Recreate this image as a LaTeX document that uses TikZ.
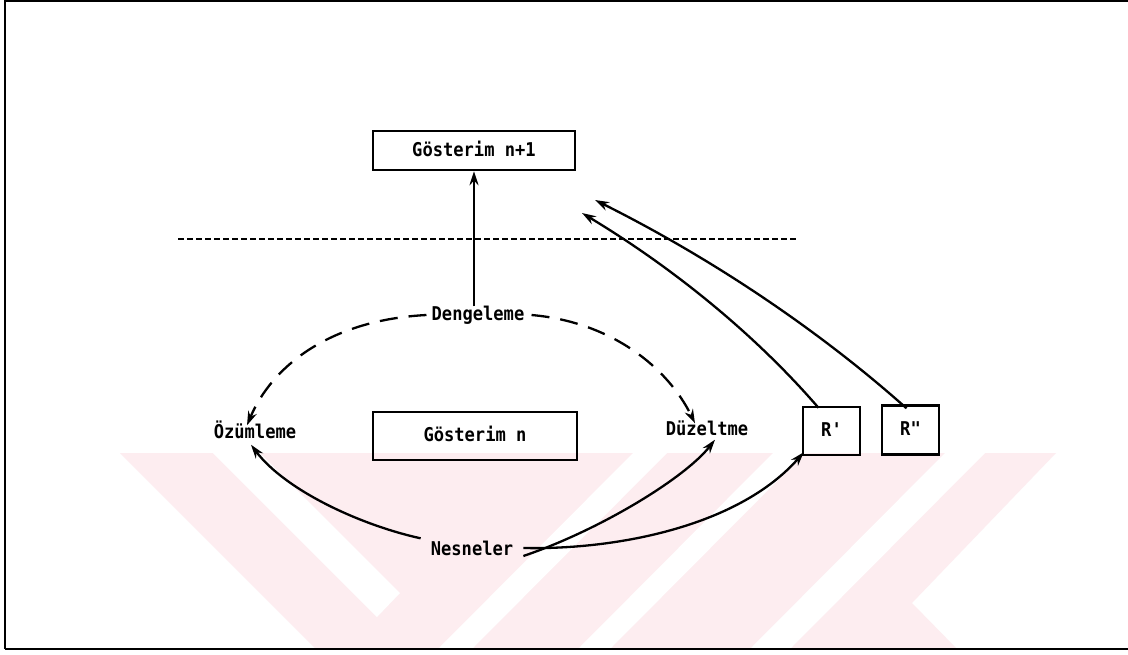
\documentclass[tikz,border=0pt]{standalone}
\usepackage{fontspec}
\newfontfamily\dotfont[FakeStretch=0.9]{DejaVu Sans Mono Bold}
\usetikzlibrary{arrows.meta}
\definecolor{wm}{RGB}{253,237,240}
\begin{document}
\begin{tikzpicture}[x=1pt,y=-1pt,
  lbl/.style={font=\dotfont\fontsize{19pt}{22pt}\selectfont, text height=14pt, text depth=3pt, inner sep=3pt},
  boxn/.style={lbl, draw, line width=2.4pt, minimum width=#1},
  arr/.style={line width=2.3pt, -{Stealth[length=14pt,width=9pt]}},
  darr/.style={arr, dash pattern=on 18pt off 11pt},
  hdash/.style={line width=2pt, dash pattern=on 6pt off 3pt},
  frame/.style={line width=2pt}
]
\useasboundingbox (0,0) rectangle (1128,654);
\fill[white] (0,0) rectangle (1128,654);
% watermark
\fill[wm] (120,453) -- (1056,453) -- (912,603) -- (957,649) -- (316,649) -- cycle;
\fill[white] (213,453) -- (260,453) -- (400,593) -- (377,617) -- cycle;
\fill[white] (633,453) -- (667,453) -- (472,649) -- (438,649) -- cycle;
\fill[white] (773,453) -- (805,453) -- (610,649) -- (578,649) -- cycle;
\fill[white] (945,453) -- (985,453) -- (790,649) -- (750,649) -- cycle;
% frame
\draw[frame] (5,1) -- (1128,1);
\draw[frame] (5,0) -- (5,649);
\draw[frame] (5,649) -- (1128,649);
% horizontal dashed separator
\draw[hdash] (178,239) -- (797,239);
% nodes
\node[boxn=202pt, minimum height=39pt] (n1) at (474,150.5) {Gösterim n+1};
\node[boxn=204pt, minimum height=48pt] (n0) at (475,436) {Gösterim n};
\node[boxn=57pt, minimum height=48pt] (r1) at (831.5,431) {R\char"27};
\node[boxn=57pt, minimum height=49pt] (r2) at (910.5,430) {R\char"22};
\node[lbl] (deng) at (478,315) {Dengeleme};
\node[lbl] (ozum) at (255,433) {Özümleme};
\node[lbl] (duz) at (707,430) {Düzeltme};
\node[lbl, inner xsep=10pt] (nes) at (472,550) {Nesneler};
% connectors
\draw[arr] ([xshift=-4pt,yshift=-3pt]deng.north) -- ([xshift=-4pt]deng.north |- n1.south);
\draw[darr] ([xshift=-2pt]deng.west) .. controls (330,320) and (272,366) .. ([xshift=-8pt,yshift=-4pt]ozum.north);
\draw[darr] ([xshift=4pt]deng.east) .. controls (612,322) and (668,368) .. ([xshift=-12pt,yshift=-5pt]duz.north);
\draw[arr] (nes.north west) .. controls (360,525) and (285,490) .. ([xshift=-4pt]ozum.south);
\draw[arr] ([yshift=-6pt]nes.east) .. controls (600,530) and (685,478) .. ([xshift=8pt,yshift=2pt]duz.south);
\draw[arr] ([yshift=2pt]nes.east) .. controls (620,550) and (740,525) .. ([xshift=2pt,yshift=4pt]r1.south west);
\draw[arr] ([xshift=-13pt,yshift=-2pt]r1.north) .. controls (760,340) and (680,272) .. (582,213);
\draw[arr] ([xshift=-4pt,yshift=-4pt]r2.north) .. controls (830,340) and (725,265) .. (595,200);
\end{tikzpicture}
\end{document}
